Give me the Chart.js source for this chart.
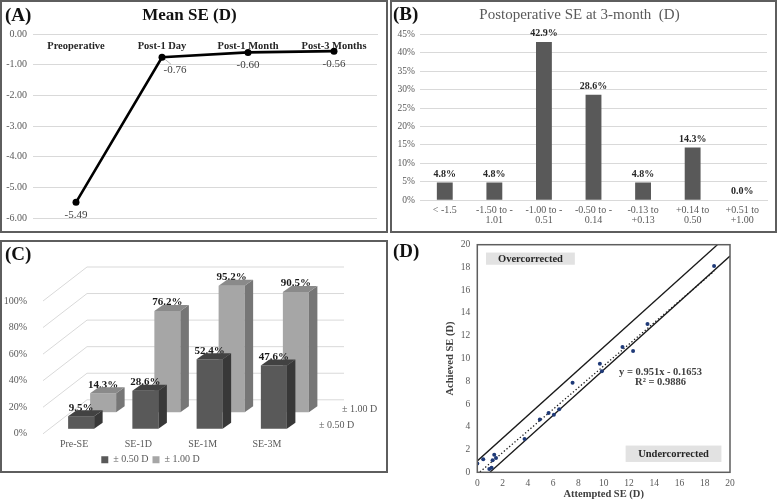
<!DOCTYPE html>
<html><head><meta charset="utf-8">
<script src="https://cdn.jsdelivr.net/npm/chart.js@4.4.1/dist/chart.umd.min.js"></script>
<style>
body{margin:0;width:778px;height:501px;background:#fff;position:relative;overflow:hidden;font-family:"Liberation Serif",serif}
.box{position:absolute;border:2px solid #5e5e5e;box-sizing:border-box}
.lbl{position:absolute;font:bold 19px "Liberation Serif",serif;color:#111;line-height:1;white-space:nowrap}
canvas{position:absolute}
</style></head><body>
<div class="box" style="left:0;top:0;width:388px;height:233px"></div>
<div class="box" style="left:390px;top:0;width:387px;height:233px"></div>
<div class="box" style="left:0;top:240px;width:388px;height:233px"></div>
<canvas id="cA" width="384" height="228" style="left:2px;top:2px"></canvas>
<canvas id="cB" width="382" height="228" style="left:392px;top:2px"></canvas>
<canvas id="cC" width="383" height="245" style="left:2px;top:242px"></canvas>
<canvas id="cD" width="388" height="269" style="left:390px;top:232px"></canvas>
<div class="lbl" style="left:5px;top:5px">(A)</div>
<div class="lbl" style="left:393px;top:4px">(B)</div>
<div class="lbl" style="left:5px;top:244px">(C)</div>
<div class="lbl" style="left:393px;top:241px">(D)</div>
<script>
// ---------- data ----------
const seTimepoints = ['Preoperative', 'Post-1 Day', 'Post-1 Month', 'Post-3 Months'];
const meanSE = [-5.49, -0.76, -0.60, -0.56];

const seRanges = [['< -1.5'], ['-1.50 to -', '1.01'], ['-1.00 to -', '0.51'], ['-0.50 to -', '0.14'], ['-0.13 to', '+0.13'], ['+0.14 to', '0.50'], ['+0.51 to', '+1.00']];
const rangePercent = [4.8, 4.8, 42.9, 28.6, 4.8, 14.3, 0.0];

const accuracyCategories = ['Pre-SE', 'SE-1D', 'SE-1M', 'SE-3M'];
const accuracySeries = ['\u00b1 0.50 D', '\u00b1 1.00 D'];
const within050 = [9.5, 28.6, 52.4, 47.6];
const within100 = [14.3, 76.2, 95.2, 90.5];

const attemptedSE = [0.0, 0.47, 0.95, 1.13, 1.21, 1.34, 1.48, 3.74, 4.95, 5.64, 6.06, 6.48, 7.54, 9.70, 9.86, 11.49, 12.33, 13.47, 18.74];
const achievedSE  = [0.77, 1.15, 0.29, 0.40, 1.06, 1.55, 1.26, 2.93, 4.65, 5.22, 5.05, 5.54, 7.86, 9.53, 8.87, 11.02, 10.65, 13.03, 18.13];
const upperLimit = [{x: 0, y: 1}, {x: 19, y: 20}];
const lowerLimit = [{x: 1, y: 0}, {x: 20, y: 19}];
const trendLine = [{x: 0, y: -0.17}, {x: 18.74, y: 17.66}];
const trendText = ['y = 0.951x - 0.1653', 'R\u00b2 = 0.9886'];

const SERIF = "'Liberation Serif', serif";
Chart.defaults.font.family = SERIF;
Chart.defaults.animation = false;
Chart.defaults.devicePixelRatio = 1;
Chart.defaults.plugins.tooltip.enabled = false;

// ---------- (A) ----------
const labelsA = {
  id: 'labelsA',
  afterDatasetsDraw(chart) {
    const ctx = chart.ctx;
    const meta = chart.getDatasetMeta(0);
    ctx.save();
    ctx.font = '11px ' + SERIF;
    ctx.fillStyle = '#404040';
    ctx.textAlign = 'center';
    ctx.textBaseline = 'middle';
    meta.data.forEach((el, i) => {
      const t = meanSE[i].toFixed(2);
      if (i === 1) {
        ctx.strokeStyle = '#a6a6a6'; ctx.lineWidth = 0.8;
        ctx.beginPath(); ctx.moveTo(el.x + 3, el.y + 2); ctx.lineTo(el.x + 9, el.y + 7); ctx.stroke();
        ctx.fillText(t, el.x + 13, el.y + 13);
      } else {
        ctx.fillText(t, el.x, el.y + 12.5);
      }
    });
    ctx.restore();
  }
};
new Chart(document.getElementById('cA'), {
  type: 'line',
  data: {labels: seTimepoints, datasets: [{data: meanSE, borderColor: '#000', backgroundColor: '#000', borderWidth: 2.6, pointRadius: 3.5, pointBackgroundColor: '#000', pointBorderWidth: 0, tension: 0}]},
  options: {
    responsive: false,
    layout: {padding: {left: 0, right: 9, top: 0, bottom: 7.7}},
    plugins: {legend: {display: false},
      title: {display: true, text: 'Mean SE (D)', color: '#111', font: {size: 17, weight: 'bold', family: SERIF}, padding: {top: 3.8, bottom: 7.8}}},
    scales: {
      x: {type: 'category', offset: true, position: {y: 0}, grid: {display: false, drawTicks: false}, border: {display: true, color: '#d9d9d9'},
          ticks: {color: '#262626', font: {size: 10.5, weight: 'bold'}, padding: 6, maxRotation: 0, autoSkip: false}},
      y: {min: -6, max: 0, ticks: {stepSize: 1, callback: v => v.toFixed(2), color: '#595959', font: {size: 10}, padding: 6},
          grid: {color: '#d9d9d9', drawTicks: false}, border: {display: false}, afterFit: s => { s.width = 31; }}
    }
  },
  plugins: [labelsA]
});

// ---------- (B) ----------
const labelsB = {
  id: 'labelsB',
  afterDatasetsDraw(chart) {
    const ctx = chart.ctx;
    ctx.save();
    ctx.font = 'bold 10px ' + SERIF;
    ctx.fillStyle = '#262626';
    ctx.textAlign = 'center';
    ctx.textBaseline = 'middle';
    chart.getDatasetMeta(0).data.forEach((el, i) => {
      ctx.fillText(rangePercent[i].toFixed(1) + '%', el.x, el.y - 8.5);
    });
    ctx.restore();
  }
};
new Chart(document.getElementById('cB'), {
  type: 'bar',
  data: {labels: seRanges, datasets: [{data: rangePercent, backgroundColor: '#595959', borderWidth: 0, categoryPercentage: 1, barPercentage: 0.32}]},
  options: {
    responsive: false,
    layout: {padding: {left: 0, right: 7, top: 0, bottom: 0}},
    plugins: {legend: {display: false},
      title: {display: true, text: 'Postoperative SE at 3-month  (D)', color: '#595959', font: {size: 15, weight: 'normal', family: SERIF}, padding: {top: 4, bottom: 10.3}}},
    scales: {
      x: {grid: {display: false, drawTicks: false}, border: {display: true, color: '#d9d9d9'},
          ticks: {color: '#595959', font: {size: 10, lineHeight: 1.0}, padding: 5, maxRotation: 0, autoSkip: false},
          afterFit: s => { s.height = 29.7; }},
      y: {min: 0, max: 45, ticks: {stepSize: 5, callback: v => v + '%', color: '#595959', font: {size: 9.5}, padding: 5},
          grid: {color: '#d9d9d9', drawTicks: false}, border: {display: false}, afterFit: s => { s.width = 28; }}
    }
  },
  plugins: [labelsB]
});

// ---------- (C) ----------
const C_SHIFT = [{dx: 7, dy: -5}, {dx: 29, dy: -21.6}];
const C_DEPTH = {dx: 8.5, dy: -6};
const C_COLORS = [{front: '#595959', side: '#383838', top: '#424242'}, {front: '#a6a6a6', side: '#767676', top: '#8a8a8a'}];
const bar3d = {
  id: 'bar3d',
  beforeDatasetsDraw(chart) {
    const {ctx, chartArea: a, scales: {y}} = chart;
    ctx.save();
    ctx.strokeStyle = '#d9d9d9'; ctx.lineWidth = 1;
    y.ticks.forEach(t => {
      const py = y.getPixelForValue(t.value);
      ctx.beginPath();
      ctx.moveTo(a.left + 1, py);
      ctx.lineTo(a.left + 45, py - 34);
      ctx.lineTo(a.right + 45, py - 34);
      ctx.stroke();
    });
    ctx.restore();
  },
  beforeDatasetDraw(chart, args) {
    const s = C_SHIFT[args.index];
    chart.ctx.save();
    chart.ctx.translate(s.dx, s.dy);
  },
  afterDatasetDraw(chart, args) {
    const ctx = chart.ctx;
    const i = args.index;
    const vals = chart.data.datasets[i].data;
    const col = C_COLORS[i];
    const {dx, dy} = C_DEPTH;
    args.meta.data.forEach((el, k) => {
      const l = el.x - el.width / 2, r = el.x + el.width / 2, t = el.y, b = el.base;
      ctx.font = 'bold 11px ' + SERIF;
      ctx.fillStyle = '#1a1a1a';
      ctx.textAlign = 'center'; ctx.textBaseline = 'middle';
      ctx.fillText(vals[k].toFixed(1) + '%', el.x, t - 8.5);
      ctx.fillStyle = col.side;
      ctx.beginPath(); ctx.moveTo(r, t); ctx.lineTo(r + dx, t + dy); ctx.lineTo(r + dx, b + dy); ctx.lineTo(r, b); ctx.closePath(); ctx.fill();
      ctx.fillStyle = col.top;
      ctx.beginPath(); ctx.moveTo(l, t); ctx.lineTo(l + dx, t + dy); ctx.lineTo(r + dx, t + dy); ctx.lineTo(r, t); ctx.closePath(); ctx.fill();
    });
    ctx.restore();
  },
  afterDraw(chart) {
    const {ctx, chartArea: a, scales: {y}} = chart;
    ctx.save();
    ctx.font = '10px ' + SERIF; ctx.fillStyle = '#595959';
    ctx.textAlign = 'left'; ctx.textBaseline = 'middle';
    const p0 = y.getPixelForValue(0);
    ctx.fillText(accuracySeries[1], a.right + 43, p0 - 24.6);
    ctx.fillText(accuracySeries[0], a.right + 20, p0 - 8);
    ctx.restore();
  }
};
new Chart(document.getElementById('cC'), {
  type: 'bar',
  data: {labels: accuracyCategories, datasets: [
    {label: accuracySeries[0], data: within050, backgroundColor: C_COLORS[0].front, borderWidth: 0, clip: false},
    {label: accuracySeries[1], data: within100, backgroundColor: C_COLORS[1].front, borderWidth: 0, clip: false}
  ]},
  options: {
    responsive: false,
    datasets: {bar: {grouped: false, categoryPercentage: 1, barPercentage: 0.405}},
    layout: {padding: {left: 0, right: 86, top: 59, bottom: 12.2}},
    plugins: {
      legend: {position: 'bottom', labels: {boxWidth: 7, boxHeight: 7, color: '#595959', font: {size: 10}, padding: 4}}
    },
    scales: {
      x: {grid: {display: false, drawTicks: false}, border: {display: false},
          ticks: {color: '#595959', font: {size: 10}, padding: 5}, afterFit: s => { s.height = 17; }},
      y: {min: 0, max: 100, ticks: {stepSize: 20, callback: v => v + '%', color: '#595959', font: {size: 10}, padding: 7},
          grid: {display: false}, border: {display: false}, afterFit: s => { s.width = 40; }}
    }
  },
  plugins: [bar3d]
});

// ---------- (D) ----------
const decoD = {
  id: 'decoD',
  beforeDatasetsDraw(chart) {
    const {ctx, scales: {x, y}} = chart;
    ctx.save();
    const box = (x0, y0, x1, y1, text) => {
      const L = x.getPixelForValue(x0), R = x.getPixelForValue(x1);
      const T = y.getPixelForValue(y0), B = y.getPixelForValue(y1);
      ctx.fillStyle = '#e2e2e2';
      ctx.fillRect(L, T, R - L, B - T);
      ctx.fillStyle = '#262626';
      ctx.font = 'bold 10.5px ' + SERIF;
      ctx.textAlign = 'center'; ctx.textBaseline = 'middle';
      ctx.fillText(text, (L + R) / 2, (T + B) / 2 + 0.5);
    };
    box(0.69, 19.31, 7.72, 18.24, 'Overcorrected');
    box(11.74, 2.35, 19.32, 0.91, 'Undercorrected');
    ctx.fillStyle = '#404040';
    ctx.font = 'bold 10.5px ' + SERIF;
    ctx.textAlign = 'center'; ctx.textBaseline = 'middle';
    ctx.fillText(trendText[0], x.getPixelForValue(14.5), y.getPixelForValue(8.76));
    ctx.fillText(trendText[1], x.getPixelForValue(14.5), y.getPixelForValue(7.95));
    ctx.restore();
  },
  afterDraw(chart) {
    const {ctx, chartArea: a} = chart;
    ctx.save();
    ctx.strokeStyle = '#5e5e5e'; ctx.lineWidth = 1.5;
    ctx.strokeRect(a.left, a.top, a.right - a.left, a.bottom - a.top);
    ctx.restore();
  }
};
new Chart(document.getElementById('cD'), {
  type: 'scatter',
  data: {datasets: [
    {data: attemptedSE.map((v, i) => ({x: v, y: achievedSE[i]})), backgroundColor: '#1f3a78', borderWidth: 0, pointRadius: 2},
    {type: 'line', data: upperLimit, borderColor: '#1a1a1a', borderWidth: 1.3, pointRadius: 0, showLine: true},
    {type: 'line', data: lowerLimit, borderColor: '#1a1a1a', borderWidth: 1.3, pointRadius: 0, showLine: true},
    {type: 'line', data: trendLine, borderColor: '#1a1a1a', borderWidth: 1.3, borderDash: [1.3, 2.2], pointRadius: 0, showLine: true}
  ]},
  options: {
    responsive: false,
    layout: {padding: {left: 54, right: 48, top: 8, bottom: 0}},
    plugins: {legend: {display: false}},
    scales: {
      x: {type: 'linear', min: 0, max: 20, grid: {display: false, drawTicks: false}, border: {display: false},
          ticks: {stepSize: 2, color: '#595959', font: {size: 9.5}, padding: 5},
          title: {display: true, text: 'Attempted SE (D)', color: '#404040', font: {size: 10.5, weight: 'bold'}, padding: {top: 0, bottom: 0}},
          afterFit: s => { s.height = 28.7; }},
      y: {type: 'linear', min: 0, max: 20, grid: {display: false, drawTicks: false}, border: {display: false},
          ticks: {stepSize: 2, color: '#595959', font: {size: 9.5}, padding: 7},
          title: {display: true, text: 'Achieved SE (D)', color: '#404040', font: {size: 10.5, weight: 'bold'}, padding: {top: 0, bottom: 0}},
          afterFit: s => { s.width = 33.3; }}
    }
  },
  plugins: [decoD]
});
</script>
</body></html>
